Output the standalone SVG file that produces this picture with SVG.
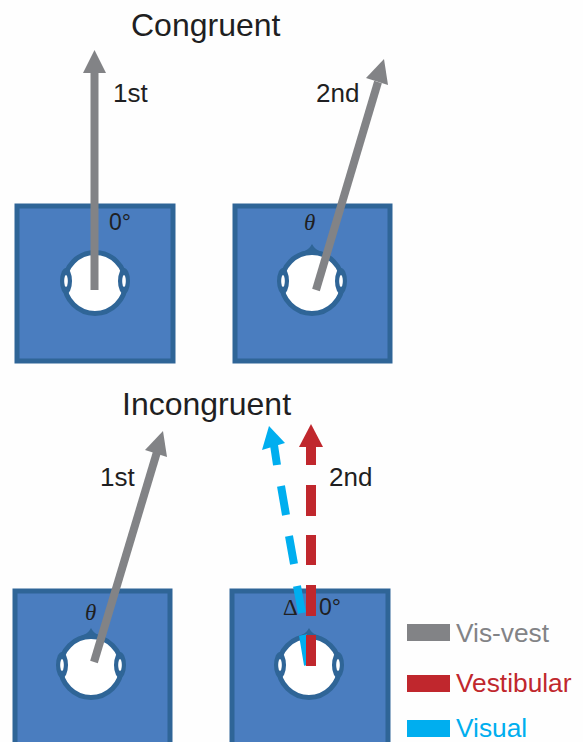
<svg xmlns="http://www.w3.org/2000/svg" width="583" height="742" viewBox="0 0 583 742">
<style>
text{font-family:"Liberation Sans",Arial,sans-serif;fill:#1f1f22}
.lbl{font-size:26px}
.title{font-size:32px}
.ang{font-size:23px}
.sym{font-family:"Liberation Serif","DejaVu Serif",serif;font-style:italic;font-size:23px}
.room{fill:#4a7dbf;stroke:#2f6597;stroke-width:5}
.leg{font-size:26.300px}
.gray{fill:#828386;stroke:none}
.red{fill:#c0272d;stroke:none}
.blue{fill:#00aeef;stroke:none}
.gs{stroke:#828386;stroke-width:8;fill:none}
.rs{stroke:#c0272d;stroke-width:10;fill:none}
.bs{stroke:#00aeef;stroke-width:8;fill:none}
</style>
<defs>
<g id="headnonose">
<circle r="30.500" fill="#fff" stroke="#2f6597" stroke-width="5"/>
<ellipse cx="-29" cy="-2" rx="6" ry="13" fill="#2f6597"/>
<ellipse cx="29" cy="-2" rx="6" ry="13" fill="#2f6597"/>
<ellipse cx="-29" cy="-2" rx="1.800" ry="6" fill="#fff"/>
<ellipse cx="29" cy="-2" rx="1.800" ry="6" fill="#fff"/>
</g>
<g id="head">
<path d="M-10-31Q-3-33 0-39Q3-33 10-31Z" fill="#2f6597"/>
<use href="#headnonose"/>
</g>
</defs>
<rect width="583" height="742" fill="#fefefe"/>
<text class="title" x="131" y="36">Congruent</text>
<text class="title" x="122" y="415">Incongruent</text>
<g id="node-congruent-1st">
<rect class="room" x="17" y="206" width="156" height="155"/>
<use href="#headnonose" x="95" y="283"/>
<text class="ang" x="109" y="230">0°</text>
</g>
<g id="node-congruent-2nd">
<rect class="room" x="235" y="206" width="155" height="155"/>
<use href="#head" x="312" y="283"/>
<text class="sym" x="304" y="230">θ</text>
</g>
<g id="node-incongruent-1st">
<rect class="room" x="15" y="591" width="155" height="160"/>
<use href="#head" x="91" y="667"/>
<text class="sym" x="85" y="620">θ</text>
</g>
<g id="node-incongruent-2nd">
<rect class="room" x="232" y="591" width="156" height="160"/>
<use href="#head" x="309" y="667"/>
<text class="ang" x="283" y="615" style="font-family:'Liberation Serif','DejaVu Serif',serif">Δ</text>
<text class="ang" x="319" y="615">0°</text>
</g>
<g id="connectors">
<path class="gs" d="M94.500 290V70"/>
<path class="gray" d="M94.500 50L106 73H83Z"/>
<path class="gs" d="M316 290L378 82"/>
<path class="gray" d="M384 59L388 85L366 78Z"/>
<path class="gs" d="M94 662L157 452"/>
<path class="gray" d="M163 431L167 457L145 450Z"/>
<path class="bs" d="M274 445L277 465M281 486L286 515M289 536L294 564M297 586L302 613M303 635L308 665"/>
<path class="blue" d="M269 426L285 443L262 450Z"/>
<path class="rs" d="M311 445V465M311 485V516M311 535V565M311 585V616M311 635V666"/>
<path class="red" d="M311 424L323 447H299Z"/>
</g>
<text class="lbl" x="113" y="102">1st</text>
<text class="lbl" x="316" y="102">2nd</text>
<text class="lbl" x="100" y="486">1st</text>
<text class="lbl" x="329" y="486">2nd</text>
<g id="legend">
<rect x="407" y="624" width="43" height="17" fill="#828386"/>
<text class="leg" x="456" y="642" style="fill:#828386">Vis-vest</text>
<rect x="407" y="675" width="43" height="17" fill="#c0272d"/>
<text class="leg" x="456" y="692" style="fill:#c0272d">Vestibular</text>
<rect x="407" y="720" width="43" height="17" fill="#00aeef"/>
<text class="leg" x="456" y="737" style="fill:#00aeef">Visual</text>
</g>
</svg>
